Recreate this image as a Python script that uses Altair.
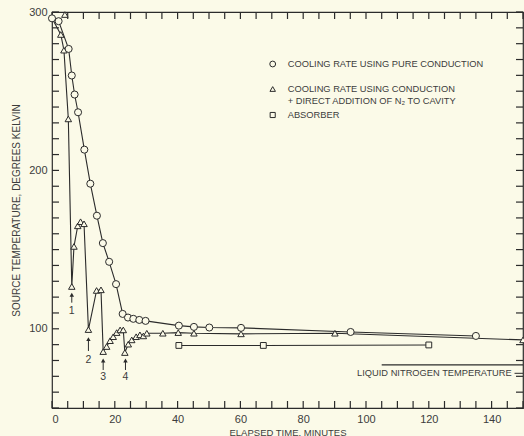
import altair as alt
import pandas as pd

# ---- data ----
circ_t = [0, 2.1, 5.3, 6.3, 7.2, 8.3, 10.3, 12.2, 14.3, 16.2, 18.2, 20.4, 22.5,
          24.2, 25.9, 27.8, 29.8, 40.4, 45.2, 50.1, 60.2, 95.1, 135.0]
circ_T = [296, 294.2, 276.7, 259.9, 247.9, 236.7, 213.1, 191.6, 171.4, 154.1, 142.3,
          128.2, 109.4, 107.1, 106.3, 105.6, 105.0, 102.0, 101.2, 100.8, 100.6, 98.0, 95.5]

tri_t = [0, 2.8, 3.8, 5.2, 6.3, 7.0, 8.2, 9.1, 10.2, 11.6, 14.2, 15.6, 16.3, 17.4,
         18.5, 19.5, 20.6, 21.7, 22.7, 23.2, 24.3, 25.4, 26.8, 28.0, 29.1, 30.2,
         35.3, 40.2, 45.2, 60.2, 90.1, 150]
tri_T = [296, 285.8, 275.9, 232.5, 126.7, 152, 165, 167.6, 166.3, 99.5, 124.2, 124.6,
         85.6, 88.8, 92.5, 95, 97.6, 99.3, 99.3, 85, 90.3, 93, 95, 96.2, 95.5, 97.2,
         97.2, 97.6, 97.2, 96.8, 97.2, 93]
extra_tri_t = [4.1]
extra_tri_T = [298.4]

sq_t = [40.4, 67.3, 120.0]
sq_T = [89.5, 89.5, 89.8]

ln2_t = [105, 150]
ln2_T = [77.2, 77.2]

arrow_t = [6.3, 11.6, 16.3, 23.4]
arrow_head = [121.5, 93.5, 80.0, 80.0]
arrow_tail = [116.5, 86.0, 74.0, 74.0]
arrow_label_T = [111.2, 80.3, 69.4, 69.4]
arrow_labels = ["1", "2", "3", "4"]

x_label_values = [0, 20, 40, 60, 80, 100, 120, 140]
y_label_values = [100, 200, 300]
x_tick_values = [float(v) for v in range(0, 151, 5)]
y_tick_values = [float(v) for v in range(50, 301, 10)]

legend_labels = ["COOLING RATE USING PURE CONDUCTION",
                 "COOLING RATE USING CONDUCTION\n+ DIRECT ADDITION OF N\u2082 TO CAVITY",
                 "ABSORBER"]

# ---- styling ----
BG = "#fbfae8"
INK = "#2b2b2b"
TXT = "#3c3c3c"
FONT = "Liberation Sans"
W, H = 471, 396
XMIN, XMAX, YMIN, YMAX = 0, 150, 50, 300
TICK = 7
dx = TICK * (XMAX - XMIN) / W
dy = TICK * (YMAX - YMIN) / H

xs = alt.Scale(domain=[XMIN, XMAX], nice=False, zero=False)
ys = alt.Scale(domain=[YMIN, YMAX], nice=False, zero=False)
xaxis = alt.Axis(values=x_label_values, ticks=False, domain=False, grid=False,
                 labelPadding=5, labelFontSize=11, labelColor=TXT, labelFont=FONT,
                 title="ELAPSED TIME, MINUTES", titleFontSize=9.5, titleFont=FONT,
                 titleColor=TXT, titleFontWeight="normal", titlePadding=3)
yaxis = alt.Axis(values=y_label_values, ticks=False, domain=False, grid=False,
                 labelPadding=5, labelFontSize=11, labelColor=TXT, labelFont=FONT,
                 title="SOURCE TEMPERATURE, DEGREES KELVIN", titleFontSize=10,
                 titleFont=FONT, titleColor=TXT, titleFontWeight="normal",
                 titlePadding=7)

X = alt.X("t:Q", scale=xs, axis=xaxis)
Y = alt.Y("T:Q", scale=ys, axis=yaxis)

circ = pd.DataFrame({"t": circ_t, "T": circ_T})
tri = pd.DataFrame({"t": tri_t, "T": tri_T})
tri_pts = pd.concat([tri.iloc[1:], pd.DataFrame({"t": extra_tri_t, "T": extra_tri_T})])
sq = pd.DataFrame({"t": sq_t, "T": sq_T})
ln2 = pd.DataFrame({"t": ln2_t, "T": ln2_T})
arr = pd.DataFrame({"t": arrow_t, "T": arrow_tail, "T2": arrow_head,
                    "TL": arrow_label_T, "lab": arrow_labels})

n_x = len(x_tick_values)
n_y = len(y_tick_values)
ticks_top = pd.DataFrame({"t": x_tick_values, "T": [YMAX] * n_x, "T2": [YMAX - dy] * n_x})
ticks_bot = pd.DataFrame({"t": x_tick_values, "T": [YMIN] * n_x, "T2": [YMIN + dy] * n_x})
ticks_left = pd.DataFrame({"T": y_tick_values, "t": [XMIN] * n_y, "t2": [XMIN + dx] * n_y})
ticks_right = pd.DataFrame({"T": y_tick_values, "t": [XMAX] * n_y, "t2": [XMAX - dx] * n_y})

layers = []
# inward ticks on all four sides
for d in (ticks_top, ticks_bot):
    layers.append(alt.Chart(d).mark_rule(color=INK, strokeWidth=1.2).encode(
        x=X, y=Y, y2="T2:Q"))
for d in (ticks_left, ticks_right):
    layers.append(alt.Chart(d).mark_rule(color=INK, strokeWidth=1.2).encode(
        x=X, x2="t2:Q", y=Y))

# lines
layers.append(alt.Chart(tri).mark_line(color=INK, strokeWidth=1.1).encode(x=X, y=Y))
layers.append(alt.Chart(circ).mark_line(color=INK, strokeWidth=1.1).encode(x=X, y=Y))
layers.append(alt.Chart(sq).mark_line(color=INK, strokeWidth=1.1).encode(x=X, y=Y))
layers.append(alt.Chart(ln2).mark_line(color=INK, strokeWidth=1.1).encode(x=X, y=Y))

# markers
layers.append(alt.Chart(tri_pts).mark_point(shape="triangle-up", size=42, filled=True,
                                            fill=BG, stroke=INK, strokeWidth=1, opacity=1)
              .encode(x=X, y=Y))
layers.append(alt.Chart(circ).mark_point(shape="circle", size=50, filled=True,
                                         fill=BG, stroke=INK, strokeWidth=1, opacity=1)
              .encode(x=X, y=Y))
layers.append(alt.Chart(sq).mark_point(shape="square", size=34, filled=True,
                                       fill=BG, stroke=INK, strokeWidth=1, opacity=1)
              .encode(x=X, y=Y))

# arrows
layers.append(alt.Chart(arr).mark_rule(color=INK, strokeWidth=1).encode(
    x=X, y=Y, y2="T2:Q"))
layers.append(alt.Chart(arr).mark_point(shape="triangle-up", size=20, filled=True,
                                        color=INK, opacity=1).encode(
    x=X, y=alt.Y("T2:Q", scale=ys, axis=yaxis)))
layers.append(alt.Chart(arr).mark_text(font=FONT, fontSize=10.5, color=TXT,
                                       baseline="middle").encode(
    x=X, y=alt.Y("TL:Q", scale=ys, axis=yaxis), text="lab:N"))

# liquid nitrogen label
layers.append(alt.Chart(pd.DataFrame({"t": [146.4], "T": [71.9],
                                      "lab": ["LIQUID NITROGEN TEMPERATURE"]}))
              .mark_text(font=FONT, fontSize=9.3, color=TXT, align="right",
                         baseline="middle").encode(x=X, y=Y, text="lab:N"))
layers.append(alt.Chart(pd.DataFrame({"t": [147.3], "t2": [150], "T": [71.9]}))
              .mark_rule(color=INK, strokeWidth=1).encode(x=X, x2="t2:Q", y=Y))

# legend (manual)
LX, TX = 220.7, 235.7
leg_y = [52, 77, 103]
shapes = ["circle", "triangle-up", "square"]
sizes = [34, 30, 26]
for yy, shp, sz, lab in zip(leg_y, shapes, sizes, legend_labels):
    layers.append(alt.Chart(pd.DataFrame({"a": [0]})).mark_point(
        shape=shp, size=sz, filled=True, fill=BG, stroke=INK, strokeWidth=1,
        opacity=1).encode(x=alt.value(LX), y=alt.value(yy)))
    layers.append(alt.Chart(pd.DataFrame({"a": [0]})).mark_text(
        text=lab.split("\n") if "\n" in lab else lab, font=FONT, fontSize=9.3,
        color=TXT, align="left", baseline="middle", lineHeight=12).encode(
        x=alt.value(TX), y=alt.value(yy)))

chart = alt.layer(*layers).properties(
    width=W, height=H, background=BG,
    autosize=alt.AutoSizeParams(type="none"),
    padding={"left": 52, "top": 12, "right": 1, "bottom": 28},
).configure_view(stroke=INK, strokeWidth=1.2)

chart.save("out.html", embed_options={"renderer": "svg", "actions": False})
